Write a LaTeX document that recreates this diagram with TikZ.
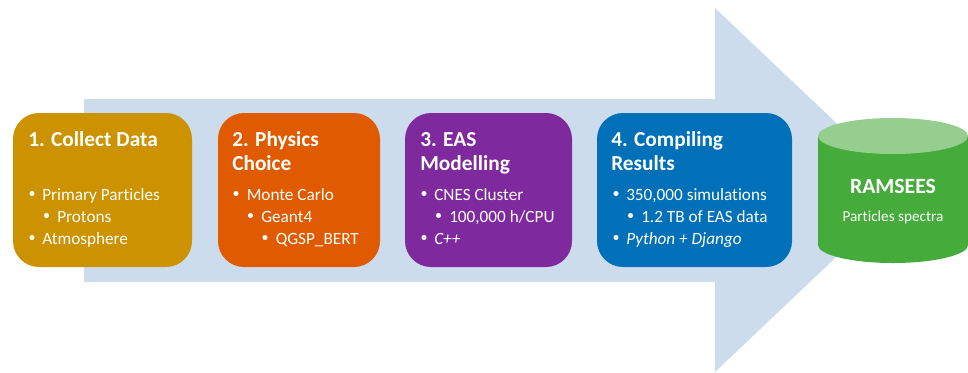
\documentclass[tikz,border=0pt]{standalone}
\usepackage{fontspec}
\setmainfont[Ligatures=CommonOff]{Carlito}
\definecolor{arrowblue}{HTML}{CDDCED}
\definecolor{boxa}{HTML}{CC9200}
\definecolor{boxb}{HTML}{E05A00}
\definecolor{boxc}{HTML}{7E2A9E}
\definecolor{boxd}{HTML}{0070B8}
\definecolor{cylbody}{HTML}{45AC3B}
\definecolor{cyltop}{HTML}{95CE8F}
\newcommand{\rbox}[6]{% name, x0,y0,x1,y1, colour
  \fill[#6,rounded corners=19.5pt] (#2,#3) rectangle (#4,#5) coordinate (#1);}
\tikzset{
  x=0.75pt,y=-0.75pt,
  head/.style={anchor=base west,inner sep=0pt,text=white,font=\fontsize{16pt}{18pt}\selectfont\bfseries},
  body/.style={anchor=base west,inner sep=0pt,text=white,font=\fontsize{12.9pt}{14pt}\selectfont},
  dot/.style={circle,fill=white,inner sep=0pt,minimum size=3.8pt},
}
\newcommand{\bul}[5]{% name, bullet x, text x, baseline y, text
  \node[dot] (#1d) at (#2,#4-6.5) {};
  \node[body] (#1) at (#3,#4) {#5};}
\begin{document}
\begin{tikzpicture}
\useasboundingbox (0,0) rectangle (968,372);
\fill[arrowblue] (84,99) -- (715,99) -- (715,8) -- (907,190) -- (715,372) -- (715,282) -- (84,282) -- cycle;
\rbox{ba}{13}{113}{192}{267}{boxa}
\rbox{bb}{218}{113}{380}{267}{boxb}
\rbox{bc}{405}{113}{572}{267}{boxc}
\rbox{bd}{597}{113}{792}{267}{boxd}
% cylinder
\fill[cylbody] (818,136) -- (818,245) arc[start angle=180,end angle=0,x radius=75,y radius=18] -- (968,136) -- cycle;
\fill[cyltop] (893,136) ellipse[x radius=75,y radius=18];
% box 1
\node[head] (h1) at (28,146) {1. Collect Data};
\bul{a1}{32}{42}{200}{Primary Particles}
\bul{a2}{46.5}{57}{222}{Protons}
\bul{a3}{32}{42}{244}{Atmosphere}
% box 2
\node[head] (h2a) at (232,146) {2. Physics};
\node[head] (h2b) at (232,170) {Choice};
\bul{b1}{236}{246.5}{200}{Monte Carlo}
\bul{b2}{250.5}{261}{222}{Geant4}
\bul{b3}{265}{275.5}{244}{QGSP\_BERT}
% box 3
\node[head] (h3a) at (420,146) {3. EAS};
\node[head] (h3b) at (420,170) {Modelling};
\bul{c1}{424}{434}{200}{CNES Cluster}
\bul{c2}{438.5}{449}{222}{100,000 h/CPU}
\bul{c3}{424}{434}{244}{\itshape C++}
% box 4
\node[head] (h4a) at (611,146) {4. Compiling};
\node[head] (h4b) at (611,170) {Results};
\bul{d1}{616}{626}{200}{350,000 simulations}
\bul{d2}{630.5}{641}{222}{1.2 TB of EAS data}
\bul{d3}{616}{626}{244}{\itshape Python + Django}
% cylinder text
\node[anchor=base,inner sep=0pt,text=white,font=\fontsize{16.3pt}{18pt}\selectfont\bfseries] (c1t) at (893,193) {RAMSEES};
\node[anchor=base,inner sep=0pt,text=white,font=\fontsize{11.4pt}{12pt}\selectfont] (c2t) at (893,221) {Particles spectra};
\end{tikzpicture}
\end{document}
